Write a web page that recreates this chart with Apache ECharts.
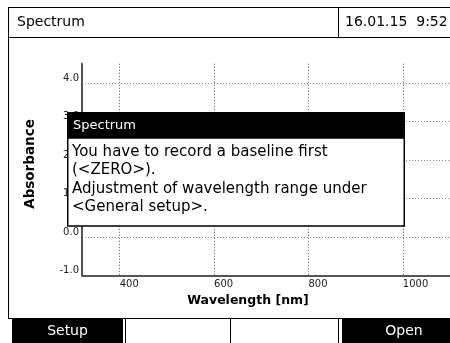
<!DOCTYPE html>
<html><head><meta charset="utf-8">
<script src="https://cdn.jsdelivr.net/npm/echarts@6/dist/echarts.min.js"></script>
<style>html,body{margin:0;padding:0;background:#fff}#c{width:450px;height:343px}</style>
</head><body><div id="c"></div>
<script>
// ---- data ----
const xTicks = [400, 600, 800, 1000];
const yTicks = [-1, 0, 1, 2, 3, 4];
const xRange = [320, 1100];
const yRange = [-1, 4.5];
const spectrum = []; // no spectrum recorded yet
const headerTitle = 'Spectrum';
const headerDate = '16.01.15  9:52';
const dialogTitle = 'Spectrum';
const dialogLines = ['You have to record a baseline first', '(<ZERO>).', 'Adjustment of wavelength range under', '<General setup>.'];
const softkeys = ['Setup', '', '', 'Open'];
const xName = 'Wavelength [nm]';
const yName = 'Absorbance';

// ---- chart ----
const FONT = 'DejaVu Sans';
const chart = echarts.init(document.getElementById('c'), null, {renderer: 'canvas'});
const hGrid = {show: true, lineStyle: {color: '#888', width: 1, type: [1, 2]}};
const vGrid = {show: true, lineStyle: {color: '#555', width: 1, type: [1, 2]}};

const g = [];
const line = (x1, y1, x2, y2, w, z) => g.push({type: 'line', z: z || 50, shape: {x1, y1, x2, y2}, style: {stroke: '#000', lineWidth: w || 1}});
// frame
line(8, 7.5, 450, 7.5);
line(8.5, 7, 8.5, 319);
line(8, 37.5, 450, 37.5);
line(338.5, 7, 338.5, 38);
line(8, 318.5, 450, 318.5);
g.push({type: 'text', z: 50, style: {text: headerTitle, x: 17, y: 22, font: '14px "' + FONT + '"', fill: '#000', verticalAlign: 'middle'}});
g.push({type: 'text', z: 50, style: {text: headerDate, x: 345, y: 22, font: '14px "' + FONT + '"', fill: '#000', verticalAlign: 'middle'}});
// softkeys
const keyBoxes = [[12, 123], [126, 230], [231, 338], [342, 458]];
softkeys.forEach((k, i) => {
  const [a, b] = keyBoxes[i];
  if (k) {
    g.push({type: 'rect', z: 50, shape: {x: a, y: 319, width: b - a, height: 24}, style: {fill: '#000'}});
    g.push({type: 'text', z: 51, style: {text: k, x: (a + b) / 2 + (i === 3 ? 4 : 0), y: 331, font: '14px "' + FONT + '"', fill: '#fff', align: 'center', verticalAlign: 'middle'}});
  }
});
line(125.5, 318, 125.5, 343);
line(230.5, 318, 230.5, 343);
line(338.5, 318, 338.5, 343);
// axis names
g.push({type: 'text', z: 50, style: {text: xName, x: 248, y: 301, font: 'bold 12.5px "' + FONT + '"', fill: '#000', align: 'center', verticalAlign: 'middle'}});
g.push({type: 'text', z: 50, x: 30, y: 164, rotation: Math.PI / 2, style: {text: yName, x: 0, y: 0, font: 'bold 13.5px "' + FONT + '"', fill: '#000', align: 'center', verticalAlign: 'middle'}});
// dialog
g.push({type: 'rect', z: 100, shape: {x: 67.75, y: 138, width: 336.5, height: 88}, style: {fill: '#fff', stroke: '#000', lineWidth: 1.5}});
g.push({type: 'rect', z: 101, shape: {x: 67, y: 112, width: 338, height: 26}, style: {fill: '#000'}});
g.push({type: 'text', z: 102, style: {text: dialogTitle, x: 73, y: 125.5, font: '13px "' + FONT + '"', fill: '#fff', verticalAlign: 'middle'}});
dialogLines.forEach((t, i) => {
  g.push({type: 'text', z: 102, style: {text: t, x: 72, y: 152 + i * 18.5, font: '15px "' + FONT + '"', fill: '#000', verticalAlign: 'middle'}});
});

chart.setOption({
  animation: false,
  backgroundColor: '#fff',
  grid: {left: 82, right: 0, top: 63.75, bottom: 67.5, containLabel: false},
  xAxis: {
    type: 'value', min: xRange[0], max: xRange[1],
    axisLine: {show: true, onZero: false, lineStyle: {color: '#555', width: 2}},
    axisTick: {show: false, customValues: xTicks},
    axisLabel: {customValues: xTicks, formatter: v => String(v), align: 'left', margin: 4, fontSize: 10, color: '#222', fontFamily: FONT},
    splitLine: vGrid
  },
  yAxis: {
    type: 'value', min: yRange[0], max: yRange[1],
    axisLine: {show: true, onZero: false, lineStyle: {color: '#555', width: 2}},
    axisTick: {show: false, customValues: yTicks},
    axisLabel: {customValues: yTicks, formatter: v => v.toFixed(1), verticalAlign: 'bottom', margin: 3, fontSize: 10, color: '#222', fontFamily: FONT},
    splitLine: hGrid
  },
  series: [{type: 'line', data: spectrum, showSymbol: false, lineStyle: {color: '#000', width: 1}}],
  graphic: g
});
</script></body></html>
